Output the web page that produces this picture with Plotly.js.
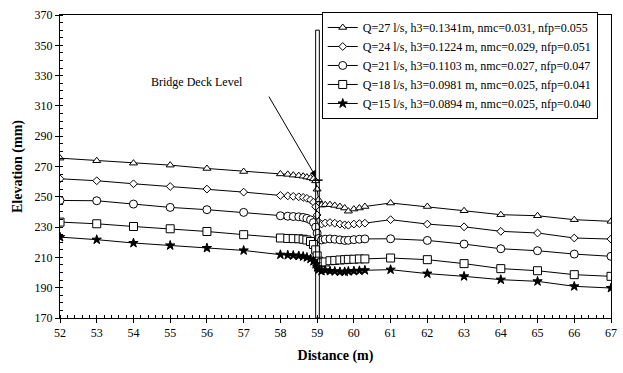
<!DOCTYPE html>
<html>
<head>
<meta charset="utf-8">
<script src="https://cdn.plot.ly/plotly-3.0.1.min.js"></script>
<style>html,body{margin:0;padding:0;background:#fff;}#chart{width:623px;height:373px;}</style>
</head>
<body>
<div id="chart"></div>
<script>
var distance = [52,53,54,55,56,57,58,58.2,58.35,58.5,58.62,58.72,58.82,58.9,58.96,59.0,59.04,59.12,59.22,59.35,59.48,59.62,59.75,59.85,60.0,60.15,60.3,61,62,63,64,65,66,67];

var q27 = [275.5,273.8,272.2,270.9,268.7,266.7,265.1,264.8,264.3,264.0,263.6,263.0,262.5,261.8,260.5,255,248,244.5,244.8,244.8,244.3,243.6,242.6,240.5,241.9,242.6,243.6,245.9,243.6,240.8,238.2,237.5,234.9,233.8];
var q24 = [261.9,260.6,258.6,256.8,255.1,253.1,250.9,250.6,250.3,250.0,249.6,249.0,248.0,246.5,243.5,238,233.5,232.0,232.8,233.0,232.6,232.0,231.5,231.2,232.0,232.3,232.6,234.9,232.0,230.2,227.2,226.1,222.8,222.1];
var q21 = [247.6,247.4,245.2,243.0,241.5,239.7,237.5,237.2,237.0,236.8,236.4,235.8,234.8,233.0,230,226,222.5,221.5,222.0,222.2,222.0,221.6,221.2,221.3,221.7,222.0,222.2,222.3,221.2,218.8,215.7,214.4,212.2,210.7];
var q18 = [233.3,232.2,230.4,228.9,227.1,225.0,222.8,222.5,222.4,222.3,222.0,221.5,220.5,218.5,215,211,207.5,206.5,207.0,207.8,208.0,208.3,208.5,208.7,208.8,209.0,209.0,209.6,208.5,205.9,202.6,201.2,198.6,197.5];
var q15 = [223.4,221.7,219.5,217.9,216.2,214.6,211.8,211.5,211.3,211.0,210.6,210.0,209.0,207.5,205.5,203.5,202.0,201.0,201.5,201.0,200.8,200.5,200.5,200.8,201.0,201.2,201.5,201.9,199.3,197.5,195.3,194.2,190.9,189.8];

var seriesNames = [
  "Q=27 l/s, h3=0.1341m, nmc=0.031, nfp=0.055",
  "Q=24 l/s, h3=0.1224 m, nmc=0.029, nfp=0.051",
  "Q=21 l/s, h3=0.1103 m, nmc=0.027, nfp=0.047",
  "Q=18 l/s, h3=0.0981 m, nmc=0.025, nfp=0.041",
  "Q=15 l/s, h3=0.0894 m, nmc=0.025, nfp=0.040"
];
var seriesValues = [q27, q24, q21, q18, q15];
var symbols = ["triangle-up","diamond","circle","square","star"];
var sizes = [7,6,8,8,7];

var bridgeX = 59;
var bridgeTop = 360;
var deckLevel = 261;

var traces = seriesValues.map(function(v,i){
  return {
    x: distance, y: v, name: seriesNames[i], type: "scatter", mode: "lines+markers",
    line: {color: "#000", width: 1},
    marker: {symbol: symbols[i], size: sizes[i], color: i===4 ? "#000" : "#fff",
             line: {color: "#000", width: 1}}
  };
});

var serif = "'Liberation Serif', 'Times New Roman', serif";
var axFont = {family: serif, size: 12, color: "#000"};
var layout = {
  width: 623, height: 373,
  margin: {l: 60, r: 12, t: 15, b: 55},
  paper_bgcolor: "#fff", plot_bgcolor: "#fff",
  font: axFont,
  showlegend: true,
  legend: {x: 0.475, y: 1.01, xanchor: "left", yanchor: "top",
           bordercolor: "#000", borderwidth: 1, bgcolor: "#fff",
           font: {family: serif, size: 12, color: "#000"},
           tracegroupgap: 0, itemwidth: 30},
  xaxis: {range: [52, 67], dtick: 1, tick0: 52, showgrid: false, zeroline: false,
          showline: true, linecolor: "#000", linewidth: 1, mirror: true,
          ticks: "outside", ticklen: 4, tickcolor: "#000", tickfont: axFont,
          minor: {dtick: 0.2, ticks: "inside", ticklen: 3, tickcolor: "#000"},
          title: {text: "<b>Distance (m)</b>", font: {family: serif, size: 14, color: "#000"}, standoff: 10}},
  yaxis: {range: [170, 370], dtick: 20, tick0: 170, showgrid: false, zeroline: false,
          showline: true, linecolor: "#000", linewidth: 1, mirror: true,
          ticks: "outside", ticklen: 4, tickcolor: "#000", tickfont: axFont,
          minor: {dtick: 5, ticks: "inside", ticklen: 3, tickcolor: "#000"},
          title: {text: "<b>Elevation (mm)</b>", font: {family: serif, size: 14, color: "#000"}, standoff: 8}},
  shapes: [
    {type: "rect", xref: "x", yref: "y", x0: bridgeX - 0.04, x1: bridgeX + 0.06, y0: 170, y1: bridgeTop,
     line: {color: "#000", width: 1}, fillcolor: "rgba(0,0,0,0)"},
    {type: "line", xref: "x", yref: "y", x0: bridgeX - 0.1, x1: bridgeX + 0.15, y0: deckLevel, y1: deckLevel,
     line: {color: "#000", width: 1.5}}
  ],
  annotations: [
    {x: 55.73, y: 326, xref: "x", yref: "y", text: "Bridge Deck Level", showarrow: false,
     font: {family: serif, size: 12, color: "#000"}},
    {x: bridgeX - 0.03, y: 263, xref: "x", yref: "y", text: "", showarrow: true,
     ax: -48, ay: -82, arrowhead: 2, arrowsize: 1.3, arrowwidth: 1, arrowcolor: "#000"}
  ]
};

Plotly.newPlot("chart", traces, layout, {displayModeBar: false, staticPlot: true});
</script>
</body>
</html>
